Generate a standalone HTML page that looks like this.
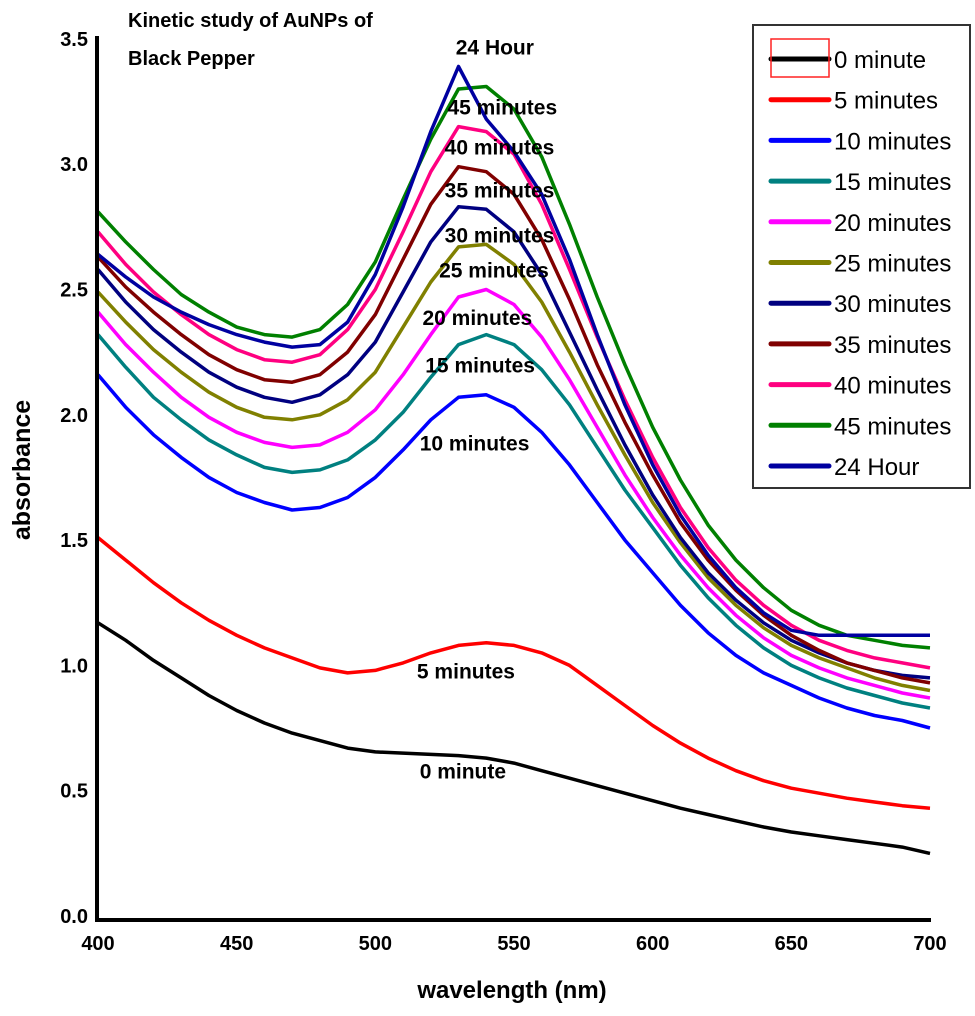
<!DOCTYPE html>
<html><head><meta charset="utf-8"><style>
body{margin:0;background:#fff}
svg text{font-family:"Liberation Sans",Arial,sans-serif}
</style></head><body>
<svg id="c" width="975" height="1011" viewBox="0 0 975 1011" xmlns="http://www.w3.org/2000/svg">
<g font-size="20" font-weight="bold">
<text x="128" y="27">Kinetic study of  AuNPs of</text>
<text x="128" y="65">Black Pepper</text>
</g>
<text transform="translate(30,470) rotate(-90)" text-anchor="middle" font-size="25" font-weight="bold">absorbance</text>
<text x="512" y="998" text-anchor="middle" font-size="24" font-weight="bold">wavelength (nm)</text>
<g id="yt"></g>
<g id="xt"></g>
<g id="lines"></g>
<g id="ann" font-size="21" font-weight="bold"></g>
<line x1="97" y1="36" x2="97" y2="921" stroke="#000" stroke-width="4"/>
<line x1="95" y1="920" x2="931" y2="920" stroke="#000" stroke-width="4"/>
<g>
<rect x="753" y="25" width="217" height="463" fill="#fff" stroke="#333" stroke-width="2"/>
<g id="leg"></g>
<rect x="771" y="39" width="58" height="38" fill="none" stroke="#f22" stroke-width="1.5"/>
</g>
</svg>
<script>
const wavelengths=[400,410,420,430,440,450,460,470,480,490,500,510,520,530,540,550,560,570,580,590,600,610,620,630,640,650,660,670,680,690,700];
const seriesNames=["0 minute","5 minutes","10 minutes","15 minutes","20 minutes","25 minutes","30 minutes","35 minutes","40 minutes","45 minutes","24 Hour"];
const s0=[1.17,1.10,1.02,0.95,0.88,0.82,0.77,0.73,0.70,0.67,0.655,0.65,0.645,0.64,0.63,0.61,0.58,0.55,0.52,0.49,0.46,0.43,0.405,0.38,0.355,0.335,0.32,0.305,0.29,0.275,0.25];
const s5=[1.51,1.42,1.33,1.25,1.18,1.12,1.07,1.03,0.99,0.97,0.98,1.01,1.05,1.08,1.09,1.08,1.05,1.0,0.92,0.84,0.76,0.69,0.63,0.58,0.54,0.51,0.49,0.47,0.455,0.44,0.43];
const s10=[2.16,2.03,1.92,1.83,1.75,1.69,1.65,1.62,1.63,1.67,1.75,1.86,1.98,2.07,2.08,2.03,1.93,1.80,1.65,1.50,1.37,1.24,1.13,1.04,0.97,0.92,0.87,0.83,0.8,0.78,0.75];
const s15=[2.32,2.19,2.07,1.98,1.90,1.84,1.79,1.77,1.78,1.82,1.90,2.01,2.15,2.28,2.32,2.28,2.18,2.04,1.87,1.70,1.55,1.40,1.27,1.16,1.07,1.00,0.95,0.91,0.88,0.85,0.83];
const s20=[2.41,2.28,2.17,2.07,1.99,1.93,1.89,1.87,1.88,1.93,2.02,2.16,2.32,2.47,2.50,2.44,2.31,2.14,1.95,1.76,1.59,1.44,1.31,1.20,1.11,1.04,0.99,0.95,0.92,0.89,0.87];
const s25=[2.49,2.37,2.26,2.17,2.09,2.03,1.99,1.98,2.0,2.06,2.17,2.35,2.53,2.67,2.68,2.60,2.45,2.25,2.04,1.84,1.65,1.49,1.35,1.24,1.15,1.08,1.03,0.99,0.95,0.92,0.90];
const s30=[2.58,2.45,2.34,2.25,2.17,2.11,2.07,2.05,2.08,2.16,2.29,2.49,2.69,2.83,2.82,2.73,2.56,2.33,2.10,1.88,1.68,1.51,1.37,1.26,1.17,1.10,1.05,1.01,0.98,0.96,0.95];
const s35=[2.63,2.51,2.41,2.32,2.24,2.18,2.14,2.13,2.16,2.25,2.40,2.62,2.84,2.99,2.97,2.88,2.70,2.46,2.20,1.97,1.76,1.57,1.42,1.30,1.20,1.12,1.06,1.01,0.98,0.95,0.93];
const s40=[2.73,2.60,2.49,2.40,2.32,2.26,2.22,2.21,2.24,2.34,2.50,2.73,2.97,3.15,3.13,3.04,2.84,2.58,2.31,2.06,1.83,1.63,1.47,1.34,1.24,1.16,1.10,1.06,1.03,1.01,0.99];
const s45=[2.81,2.69,2.58,2.48,2.41,2.35,2.32,2.31,2.34,2.44,2.61,2.86,3.10,3.30,3.31,3.22,3.03,2.76,2.47,2.20,1.95,1.74,1.56,1.42,1.31,1.22,1.16,1.12,1.10,1.08,1.07];
const s24h=[2.64,2.55,2.47,2.41,2.36,2.32,2.29,2.27,2.28,2.37,2.56,2.83,3.13,3.39,3.18,3.05,2.88,2.62,2.32,2.04,1.80,1.60,1.44,1.31,1.21,1.14,1.12,1.12,1.12,1.12,1.12];
const yTicks=["0.0","0.5","1.0","1.5","2.0","2.5","3.0","3.5"];
const xTicks=[400,450,500,550,600,650,700];
const annLabels=["24 Hour","45 minutes","40 minutes","35 minutes","30 minutes","25 minutes","20 minutes","15 minutes","10 minutes","5  minutes","0 minute"];
const annValues=[3.47,3.23,3.07,2.90,2.72,2.58,2.39,2.20,1.89,0.98,0.58];
const annWl=[529,526,525,525,525,523,517,518,516,515,516];
const allSeries=[s0,s5,s10,s15,s20,s25,s30,s35,s40,s45,s24h];
const colors=["#000","#f00","#00f","#008080","#f0f","#808000","#000080","#800000","#ff0080","#008000","#0000a0"];
const NS="http://www.w3.org/2000/svg";
const X=w=>98+(w-400)*(832/300);
const Y=v=>916-v*250.6;
const yt=document.getElementById('yt');
yTicks.forEach(t=>{const e=document.createElementNS(NS,'text');


e.setAttribute('x',88);e.setAttribute('y',Y(+t)+7);e.setAttribute('text-anchor','end');e.setAttribute('font-size','20');e.setAttribute('font-weight','bold');e.textContent=t;yt.appendChild(e);});
const xt=document.getElementById('xt');
xTicks.forEach(t=>{const e=document.createElementNS(NS,'text');


e.setAttribute('x',X(t));e.setAttribute('y',950);e.setAttribute('text-anchor','middle');e.setAttribute('font-size','20');e.setAttribute('font-weight','bold');e.textContent=t;xt.appendChild(e);});
const lg=document.getElementById('lines');
allSeries.forEach((s,i)=>{const p=document.createElementNS(NS,'polyline');


p.setAttribute('points',s.map((v,j)=>X(wavelengths[j]).toFixed(1)+','+Y(v).toFixed(1)).join(' '));
p.setAttribute('fill','none');p.setAttribute('stroke',colors[i]);p.setAttribute('stroke-width','3.5');p.setAttribute('stroke-linejoin','round');lg.appendChild(p);});
const an=document.getElementById('ann');
annLabels.forEach((t,i)=>{const e=document.createElementNS(NS,'text');


e.setAttribute('x',X(annWl[i]));e.setAttribute('y',Y(annValues[i])+8);e.setAttribute('font-size','21');e.setAttribute('font-weight','bold');e.textContent=t;an.appendChild(e);});
const leg=document.getElementById('leg');
seriesNames.forEach((n,i)=>{const y=59+i*40.7;
const l=document.createElementNS(NS,'line');


l.setAttribute('x1',771);l.setAttribute('x2',829);l.setAttribute('y1',y);l.setAttribute('y2',y);l.setAttribute('stroke',colors[i]);l.setAttribute('stroke-width','5');l.setAttribute('stroke-linecap','round');leg.appendChild(l);
const e=document.createElementNS(NS,'text');


e.setAttribute('x',834);e.setAttribute('y',y+9);e.setAttribute('font-size','24');e.textContent=n;leg.appendChild(e);});
</script>
</body></html>
